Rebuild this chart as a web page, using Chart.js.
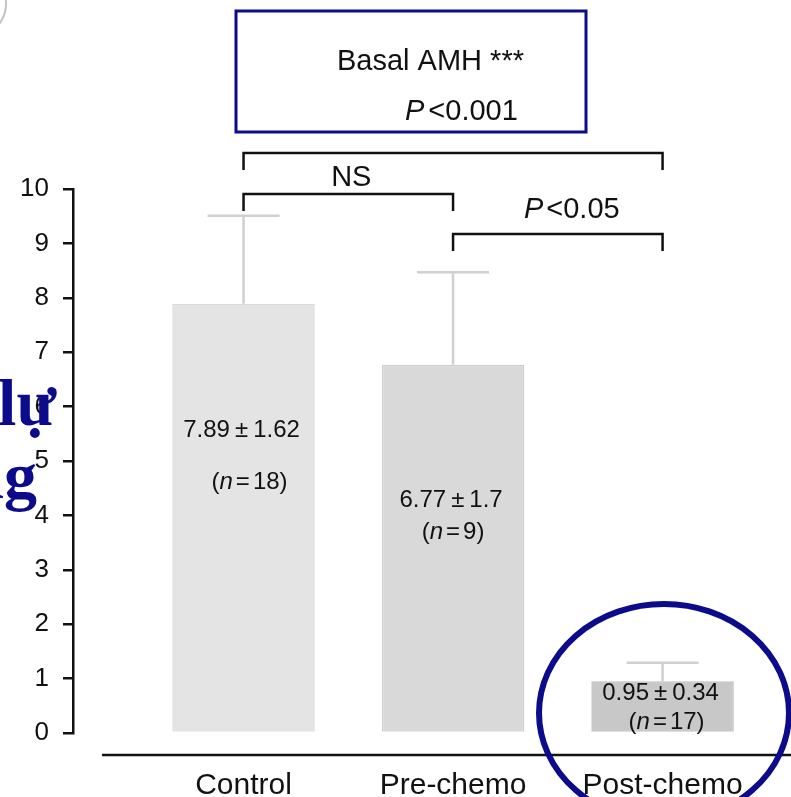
<!DOCTYPE html>
<html>
<head>
<meta charset="utf-8">
<title>Basal AMH</title>
<script src="https://cdn.jsdelivr.net/npm/chart.js@4.4.1/dist/chart.umd.min.js"></script>
<style>
  html, body { margin: 0; padding: 0; background: #fff; }
  #wrap { width: 791px; height: 797px; position: relative; overflow: hidden; }
</style>
</head>
<body>
<div id="wrap"><canvas id="amhChart" width="791" height="797"></canvas></div>
<script>
// values
const categories = ['Control', 'Pre-chemo', 'Post-chemo'];
const means = [7.89, 6.77, 0.95];
const sds = [1.62, 1.7, 0.34];
const groupSizes = [18, 9, 17];
const yTicks = [0, 1, 2, 3, 4, 5, 6, 7, 8, 9, 10];
const barColors = ['#e4e4e4', '#d9d9d9', '#c8c8c8'];
const barBorders = ['#d9d9d9', '#cecece', '#bdbdbd'];

const SANS = '"Liberation Sans", Arial, Helvetica, sans-serif';
const SERIF = '"Liberation Serif", "Times New Roman", serif';
const NAVY = '#0b0b8c';
const INK = '#111';

function fontOf(size, italic) {
  return (italic ? 'italic ' : '') + size + 'px ' + SANS;
}

// parts: ['text', italic] or a number = gap in px
function drawRich(ctx, parts, x, y, size, align) {
  let total = 0;
  parts.forEach(p => {
    if (typeof p === 'number') { total += p; return; }
    ctx.font = fontOf(size, p[1]);
    total += ctx.measureText(p[0]).width;
  });
  let cx = align === 'left' ? x : x - total / 2;
  ctx.textAlign = 'left';
  ctx.textBaseline = 'middle';
  ctx.fillStyle = INK;
  parts.forEach(p => {
    if (typeof p === 'number') { cx += p; return; }
    ctx.font = fontOf(size, p[1]);
    ctx.fillText(p[0], cx, y);
    cx += ctx.measureText(p[0]).width;
  });
}

function bracket(ctx, x1, x2, y, drop) {
  ctx.beginPath();
  ctx.moveTo(x1, y + drop);
  ctx.lineTo(x1, y);
  ctx.lineTo(x2, y);
  ctx.lineTo(x2, y + drop);
  ctx.stroke();
}

// error bars sit behind the bars
const errorBars = {
  id: 'errorBars',
  beforeDatasetsDraw(chart) {
    const ctx = chart.ctx;
    const y = chart.scales.y;
    const bars = chart.getDatasetMeta(0).data;
    ctx.save();
    ctx.strokeStyle = '#d0d0d0';
    ctx.lineWidth = 2.5;
    bars.forEach((bar, i) => {
      const top = y.getPixelForValue(means[i] + sds[i]);
      ctx.beginPath();
      ctx.moveTo(bar.x, bar.y);
      ctx.lineTo(bar.x, top);
      ctx.moveTo(bar.x - 36, top);
      ctx.lineTo(bar.x + 36, top);
      ctx.stroke();
    });
    ctx.restore();
  }
};

// mean ± sd and n written inside each bar
const barLabels = {
  id: 'barLabels',
  afterDatasetsDraw(chart) {
    const ctx = chart.ctx;
    const y = chart.scales.y;
    const bars = chart.getDatasetMeta(0).data;
    const meanAt = [5.57, 4.28, 0.72];
    const nAt = [4.61, 3.69, 0.2];
    const nShift = [6, 0, 4];
    ctx.save();
    bars.forEach((bar, i) => {
      drawRich(ctx, [[String(means[i]), false], 5, ['\u00b1', false], 5, [String(sds[i]), false]],
        bar.x - 2, y.getPixelForValue(meanAt[i]), 24);
      drawRich(ctx, [['(', false], ['n', true], 3, ['=', false], 3, [groupSizes[i] + ')', false]],
        bar.x + nShift[i], y.getPixelForValue(nAt[i]), 24);
    });
    ctx.restore();
  }
};

const annotations = {
  id: 'annotations',
  afterDraw(chart) {
    const ctx = chart.ctx;
    const bars = chart.getDatasetMeta(0).data;
    const xs = bars.map(b => b.x);
    ctx.save();

    // x axis baseline, detached from the y axis
    ctx.strokeStyle = INK;
    ctx.lineWidth = 2.5;
    ctx.beginPath();
    ctx.moveTo(102, 755);
    ctx.lineTo(791, 755);
    ctx.stroke();

    // comparison brackets
    bracket(ctx, xs[0], xs[2], 153, 17);
    bracket(ctx, xs[0], xs[1], 194, 17);
    bracket(ctx, xs[1], xs[2], 234, 17);
    drawRich(ctx, [['NS', false]], (xs[0] + xs[1]) / 2 + 3, 178, 29);
    drawRich(ctx, [['P', true], 3, ['<0.05', false]], (xs[1] + xs[2]) / 2 + 14, 210, 29);

    // overall test box
    ctx.strokeStyle = NAVY;
    ctx.lineWidth = 3;
    ctx.strokeRect(236, 11, 350, 121);
    drawRich(ctx, [['Basal AMH ***', false]], 337, 62, 29, 'left');
    drawRich(ctx, [['P', true], 4, ['<0.001', false]], 405, 112, 29, 'left');

    // circle around the post-chemo bar
    ctx.lineWidth = 6;
    ctx.beginPath();
    ctx.ellipse(664, 713, 125, 109, 0, 0, Math.PI * 2);
    ctx.stroke();

    // slide text bleeding in from the left
    ctx.fillStyle = NAVY;
    ctx.font = 'bold 66px ' + SERIF;
    ctx.textAlign = 'right';
    ctx.textBaseline = 'alphabetic';
    ctx.fillText('lự', 56, 425);
    ctx.fillText('ng', 37, 498);

    // tiny grey arc in the top corner
    ctx.strokeStyle = '#c4c4c4';
    ctx.lineWidth = 2;
    ctx.beginPath();
    ctx.arc(-26, 4, 32, -0.6, 0.9);
    ctx.stroke();

    ctx.restore();
  }
};

const ctx = document.getElementById('amhChart').getContext('2d');
new Chart(ctx, {
  type: 'bar',
  data: {
    datasets: [{
      data: means.map((m, i) => ({ x: i, y: m })),
      backgroundColor: barColors,
      borderColor: barBorders,
      borderWidth: 1.5,
      barPercentage: 0.68,
      categoryPercentage: 1
    }]
  },
  options: {
    responsive: false,
    animation: false,
    devicePixelRatio: 1,
    layout: { padding: { top: 189, left: 0, right: 0, bottom: 0 } },
    plugins: {
      legend: { display: false },
      tooltip: { enabled: false }
    },
    scales: {
      x: {
        type: 'linear',
        offset: false,
        min: -0.814,
        max: 2.613,
        afterBuildTicks: s => { s.ticks = categories.map((c, i) => ({ value: i })); },
        afterFit: s => { s.height = 64; },
        ticks: {
          callback: v => categories[v],
          font: { family: SANS, size: 30 },
          color: INK,
          padding: 35,
          maxRotation: 0,
          autoSkip: false
        },
        grid: { display: false, drawTicks: false },
        border: { display: false }
      },
      y: {
        min: 0,
        max: 10,
        afterBuildTicks: s => { s.ticks = yTicks.map(v => ({ value: v })); },
        afterFit: s => { s.width = 73; },
        ticks: {
          font: { family: SANS, size: 26 },
          color: INK,
          padding: 14
        },
        grid: {
          display: true,
          drawOnChartArea: false,
          drawTicks: true,
          tickLength: 10,
          color: INK,
          lineWidth: 2.5
        },
        border: { display: true, color: INK, width: 2.5 }
      }
    }
  },
  plugins: [errorBars, barLabels, annotations]
});
</script>
</body>
</html>
